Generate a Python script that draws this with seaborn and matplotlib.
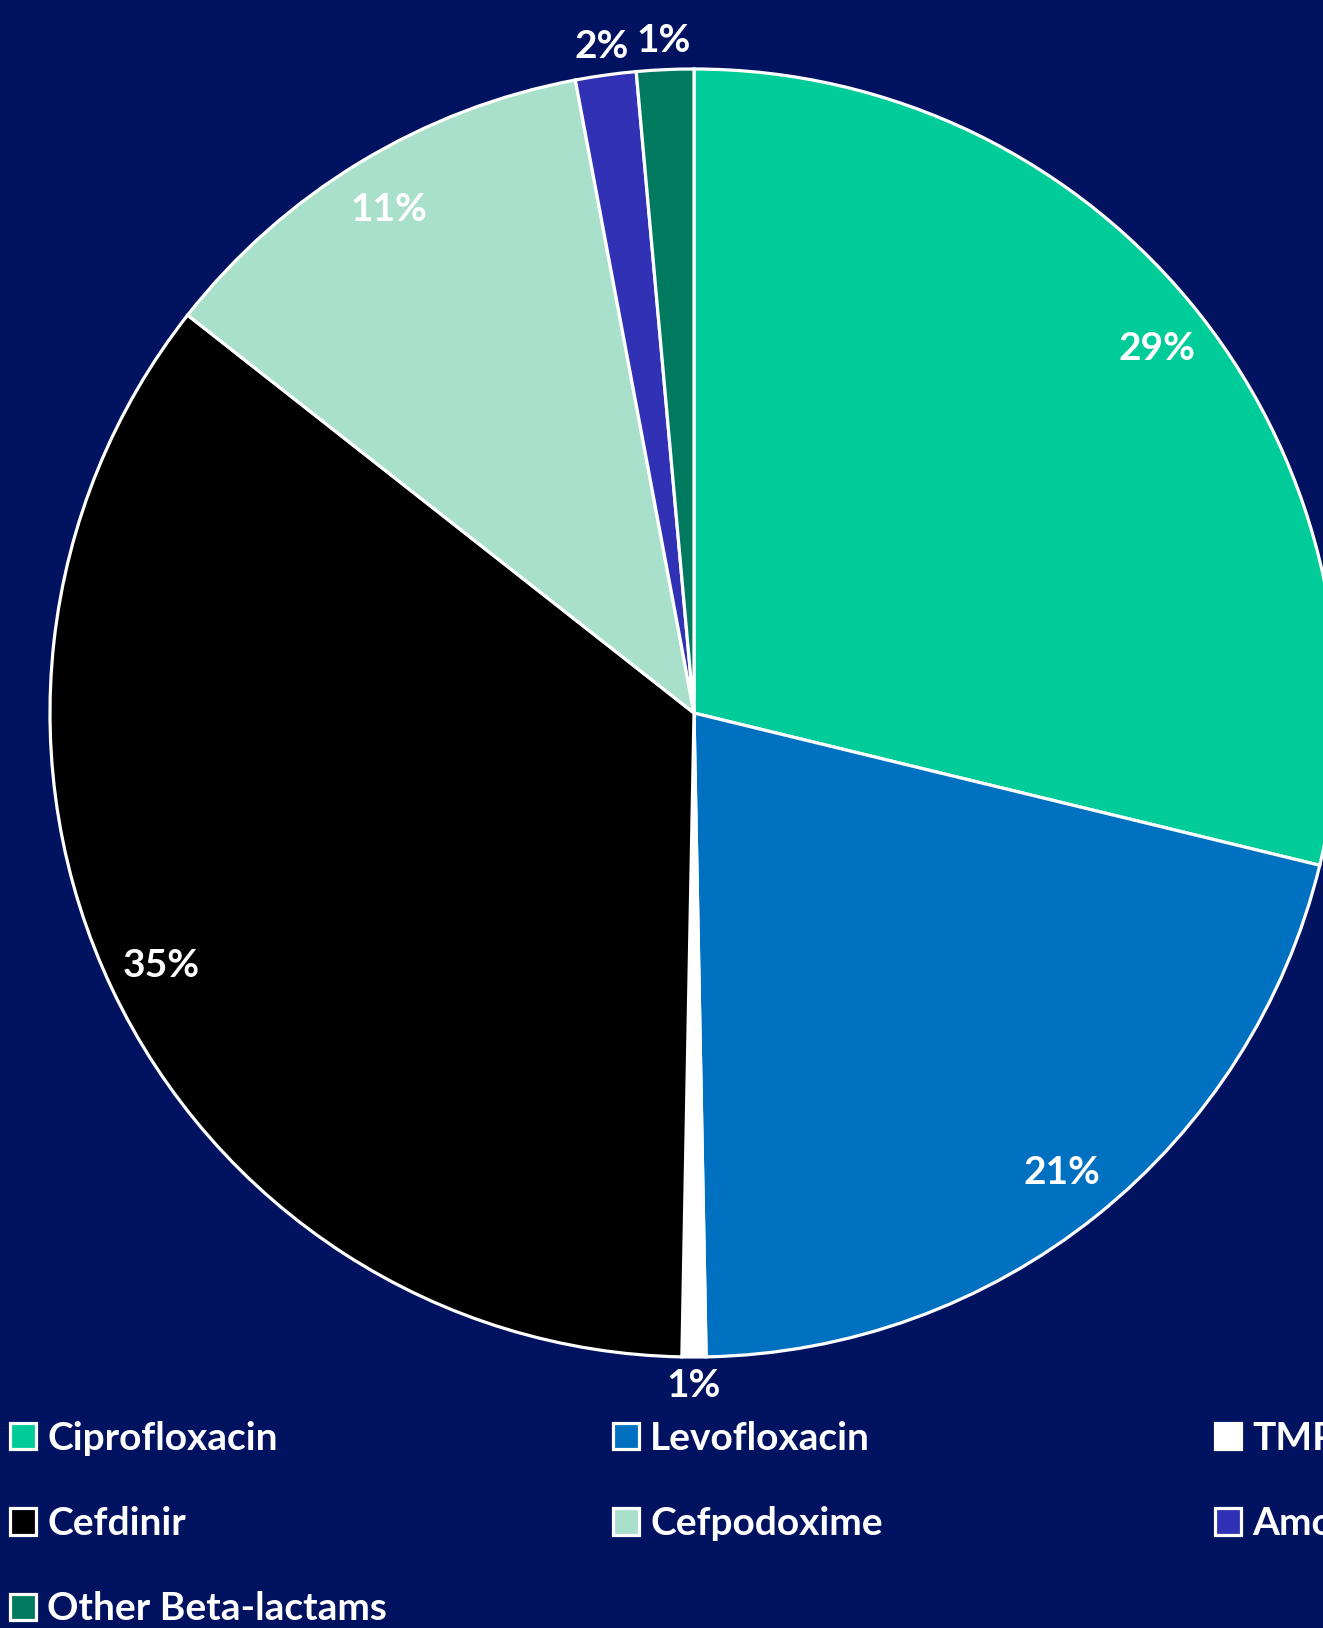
import numpy as np
import matplotlib
matplotlib.use("Agg")
import matplotlib.pyplot as plt
import seaborn as sns

categories = ["Ciprofloxacin", "Levofloxacin", "TMP-SMX", "Cefdinir",
              "Cefpodoxime", "Amoxicillin", "Other Beta-lactams"]
shares = [28.8, 20.9, 0.6, 35.3, 11.45, 1.52, 1.43]
colors = ["#00CC99", "#0070C0", "#FFFFFF", "#000000",
          "#A9E0CB", "#3131B5", "#007A5E"]
bg = "#001260"

sns.set_theme(style="white")
plt.rcParams["font.family"] = ["Lato", "DejaVu Sans"]
plt.rcParams["font.weight"] = "bold"

W, H = 1323, 1628
fig = plt.figure(figsize=(W / 100, H / 100), dpi=100, facecolor=bg)

cx, cy, R = 694, 713, 644
ax = fig.add_axes([(cx - R) / W, (H - cy - R) / H, 2 * R / W, 2 * R / H])
ax.set_facecolor(bg)
ax.axis("off")

def fmt(p):
    return f"{int(p + 0.5)}%"

wedges, texts, autotexts = ax.pie(
    shares, colors=colors, startangle=90, counterclock=False, radius=1,
    autopct=fmt, pctdistance=0.915,
    wedgeprops=dict(edgecolor="white", linewidth=2.3),
    textprops=dict(color="white", fontsize=28, fontweight="bold"))
ax.set_xlim(-1, 1)
ax.set_ylim(-1, 1)
for w in wedges:
    w.set_clip_on(False)

for w, t, s in zip(wedges, autotexts, shares):
    if s < 5:
        th = np.deg2rad((w.theta1 + w.theta2) / 2)
        t.set_position((1.045 * np.cos(th), 1.045 * np.sin(th)))
        t.set_clip_on(False)

# legend in three columns, row-major order
cols = [[0, 3, 6], [1, 4], [2, 5]]
xs = [10, 613, 1215]
for xpix, idx in zip(xs, cols):
    handles = [wedges[i] for i in idx]
    labels = [categories[i] for i in idx]
    leg = fig.legend(handles, labels, loc="upper left",
                     bbox_to_anchor=(xpix / W, 1 - 1421 / H),
                     frameon=False, fontsize=28, labelcolor="white",
                     handlelength=0.66, handleheight=0.66, handletextpad=0.3,
                     labelspacing=1.29, borderpad=0, borderaxespad=0)
    for t in leg.get_texts():
        t.set_fontweight("bold")

fig.savefig("out.png", dpi=100, facecolor=bg)
